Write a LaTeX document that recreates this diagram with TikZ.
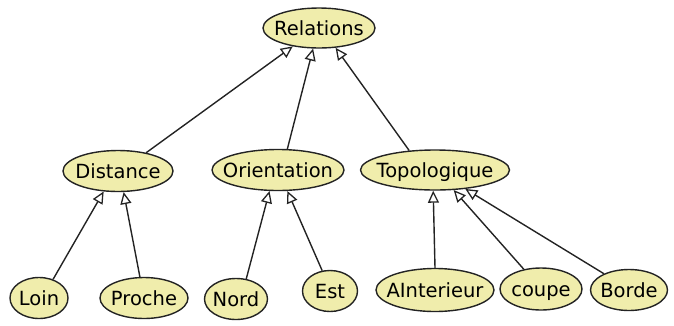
\documentclass[tikz,border=0pt]{standalone}
\usepackage{fontspec}
\setmainfont{DejaVu Sans}
\usetikzlibrary{shapes.geometric,arrows.meta}
\definecolor{conceptfill}{RGB}{240,237,172}
\definecolor{conceptline}{RGB}{35,35,35}
% label of fixed-size ellipse: the text takes no room, the ellipse size is set by hand
\newcommand{\clabel}[1]{\makebox[0pt]{\raisebox{-0.36em}[0pt][0pt]{#1}}}
\tikzset{
  concept/.style={ellipse, draw=conceptline, line width=1.4pt, fill=conceptfill,
    inner sep=0pt, font=\fontsize{19.5}{20}\selectfont},
  inh/.style={draw=conceptline, line width=1.4pt,
    -{Triangle[open, length=12pt, width=11pt, line width=1.3pt]}}
}
\begin{document}
\begin{tikzpicture}[x=1pt, y=-1pt]
\useasboundingbox (0,0) rectangle (674,325);

% root
\node[concept, minimum width=112pt, minimum height=40pt] (rel) at (319,28) {\clabel{Relations}};

% second level
\node[concept, minimum width=110pt, minimum height=41pt] (dist) at (118,171) {\clabel{Distance}};
\node[concept, minimum width=132pt, minimum height=41pt] (orient) at (278,170) {\clabel{Orientation}};
\node[concept, minimum width=149pt, minimum height=40pt] (topo) at (435,170) {\clabel{Topologique}};

% leaves
\node[concept, minimum width=58pt, minimum height=41pt] (loin) at (39,298) {\clabel{Loin}};
\node[concept, minimum width=88pt, minimum height=41pt] (proche) at (144,298) {\clabel{Proche}};
\node[concept, minimum width=63pt, minimum height=41pt] (nord) at (236,299) {\clabel{Nord}};
\node[concept, minimum width=55pt, minimum height=41pt] (est) at (330,291) {\clabel{Est}};
\node[concept, minimum width=118pt, minimum height=43pt] (inter) at (435,290) {\clabel{AInterieur}};
\node[concept, minimum width=82pt, minimum height=42pt] (coupe) at (541,289) {\clabel{coupe}};
\node[concept, minimum width=77pt, minimum height=41pt] (borde) at (629,290) {\clabel{Borde}};

% generalisation links
\draw[inh] (dist.33) -- (rel.215);
\draw[inh] (orient.66) -- (rel.254);
\draw[inh] (topo.143) -- (rel.310);

\draw[inh] (loin.53) -- (dist.235);
\draw[inh] (proche.101) -- (dist.285);
\draw[inh] (nord.63) -- (orient.248);
\draw[inh] (est.111) -- (orient.294);
\draw[inh] (inter.90) -- (topo.265);
\draw[inh] (coupe.131) -- (topo.313);
\draw[inh] (borde.147) -- (topo.328);
\end{tikzpicture}
\end{document}
